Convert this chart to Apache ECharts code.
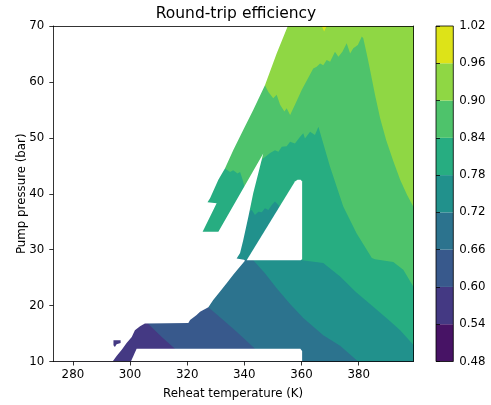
<!DOCTYPE html>
<html>
<head>
<meta charset="utf-8">
<script src="https://cdn.jsdelivr.net/npm/echarts@6/dist/echarts.min.js"></script>
<style>html,body{margin:0;padding:0;background:#fff;}#chart{width:491px;height:405px;}</style>
</head>
<body>
<div id="chart"></div>
<script>
// ---- tick labels / levels ----
const xTicks = [280, 300, 320, 340, 360, 380];
const yTicks = [10, 20, 30, 40, 50, 60, 70];
const levels = [0.48, 0.54, 0.60, 0.66, 0.72, 0.78, 0.84, 0.90, 0.96, 1.02];
const bandColors = ['#471365', '#443983', '#38598c', '#2c738e', '#21918c', '#27ad81', '#4ec36b', '#8fd744', '#dde318'];

// ---- filled-contour regions, [T (K), P (bar)] ----
// region where efficiency >= level
const above054 = [[272,8.5],[401.5,8.5],[401.5,72],[272,72]];
const above060 = [[306.4,16.7],[311.1,14.4],[315.7,12.3],[316.1,8.5],[401.5,8.5],[401.5,72],[272,72],[272,19.2],[306.4,19.2]];
const above066 = [[327.4,19.7],[332.6,17.4],[337.3,15.3],[343.7,12.3],[344.1,8.5],[401.5,8.5],[401.5,72],[272,72],[272,22.8],[327.4,22.8]];
const above072 = [[272,72],[401.5,72],[401.5,8.5],[380.1,8.5],[379.8,10],[373.5,12.8],[367.6,14.7],[360.6,17.8],[356.0,20.3],[351.3,23.1],[347.2,25.8],[343.1,28.1],[340.4,28.15],[337.1,28.5],[272,28.5]];
const above078 = [[272,72],[401.5,72],[401.5,13.0],[399.1,13.0],[394.5,15.6],[391.0,17.2],[385.1,19.8],[379.1,22.4],[373.5,25.2],[367.6,27.6],[360.2,28.1],[358.8,29.0],[354.2,36.2],[352.2,37.7],[351.9,38.0],[350.7,38.6],[349.6,38.0],[348.4,37.1],[347.2,37.4],[346.1,36.7],[344.9,36.8],[343.7,36.2],[342.6,37.1],[341.6,36.9],[338.5,36.7],[338.5,31.7],[272,31.7]];
const above084 = [[272,72],[401.5,72],[401.5,23.4],[399.1,23.4],[395.6,26.4],[392.1,27.8],[385.7,28.3],[384.6,28.5],[379.3,32.9],[374.6,37.7],[370.0,44.8],[365.9,52.0],[364.7,50.5],[363.0,51.1],[361.2,49.9],[360.6,50.8],[359.5,50.2],[357.7,49.0],[356.0,49.3],[354.8,48.5],[353.1,48.4],[351.9,47.5],[350.7,47.8],[349.0,47.3],[347.6,46.7],[346.3,46.2],[344.1,44.2],[342.0,41.7],[340.0,41.3],[339.4,42.5],[338.5,43.9],[337.6,43.6],[336.1,44.2],[335.0,43.9],[333.2,44.5],[329.7,44.6],[272,44.6]];
const above090 = [[272,72],[401.5,72],[401.5,37.7],[399.1,37.7],[396.9,39.8],[394.5,42.5],[392.0,46.0],[389.6,49.6],[387.5,53.5],[385.7,57.7],[384.0,62.1],[382.9,64.8],[381.6,67.8],[381.1,68.1],[379.7,66.6],[378.1,66.0],[377.0,65.1],[375.8,66.9],[374.3,65.4],[372.9,64.5],[371.7,65.4],[370.0,63.6],[368.8,63.9],[367.6,63.0],[366.5,63.3],[365.3,62.7],[364.1,62.4],[360.1,58.6],[357.7,55.9],[356.0,54.1],[354.8,55.3],[354.0,54.7],[352.5,55.9],[351.3,57.7],[350.1,57.1],[348.4,58.2],[347.2,59.4],[343.7,59.4],[272,59.4]];
const above096 = [[366.8,72],[369.1,72],[368.8,70],[367.9,69.0],[367.1,70]];

// ---- regions with no data (left blank) ----
const nanOutside = [[272,72],[356.0,72],[355.2,70],[351.3,65.1],[347.2,59.4],[343.1,55.0],[339.6,51.4],[336.1,47.8],[333.2,44.5],[330.9,42.5],[328.0,39.2],[327.1,38.5],[330.3,38.3],[325.4,33.2],[330.9,33.2],[346.6,47.2],[344.9,43.7],[343.1,40.1],[341.4,35.9],[339.6,31.7],[338.5,29.4],[337.3,28.4],[339.9,28.2],[340.2,28.0],[338.5,27.0],[336.1,25.5],[333.8,24.0],[331.5,22.5],[329.1,21.0],[327.4,19.7],[324.5,18.9],[323.3,18.3],[321.0,17.4],[320.4,16.9],[305.2,16.8],[303.5,16.3],[301.7,15.6],[300.6,14.4],[298.8,13.3],[297.1,12.1],[295.3,11.0],[293.9,10],[293.7,8.5],[272,8.5]];
const nanTriangle = [[340.8,28.1],[357.7,42.2],[358.6,42.5],[359.7,42.5],[360.2,42.2],[360.2,28.3],[359.7,28.1]];
const nanBottom = [[302.3,12.3],[359.6,12.3],[360.2,11.9],[360.2,8],[298.6,8],[300.3,10]];
// small isolated patch in the 0.54-0.60 band
const islandPatch = [[294.2,13.8],[296.7,13.8],[296.7,13.3],[295.3,13.1],[294.7,12.6],[294.2,12.9]];

const FONT = "'DejaVu Sans', sans-serif";
const regions = [
  {poly: above054, color: bandColors[1]},
  {poly: above060, color: bandColors[2]},
  {poly: above066, color: bandColors[3]},
  {poly: above072, color: bandColors[4]},
  {poly: above078, color: bandColors[5]},
  {poly: above084, color: bandColors[6]},
  {poly: above090, color: bandColors[7]},
  {poly: above096, color: bandColors[8]},
  {poly: nanOutside, color: '#ffffff'},
  {poly: nanTriangle, color: '#ffffff'},
  {poly: nanBottom, color: '#ffffff'},
  {poly: islandPatch, color: bandColors[1]}
];

const chart = echarts.init(document.getElementById('chart'), null, {renderer: 'canvas'});
const axisLineStyle = {color: '#000', width: 0.8};
const labelStyle = {color: '#000', fontSize: 11.8, fontFamily: FONT};

const option = {
  animation: false,
  backgroundColor: '#fff',
  title: {
    text: 'Round-trip efficiency', left: 236, top: 6, textAlign: 'center', padding: 0,
    textStyle: {fontSize: 15.5, fontWeight: 'normal', color: '#000', fontFamily: FONT}
  },
  grid: [
    {left: 53.3, top: 26, width: 359.7, height: 335.5},
    {left: 436, top: 26, width: 17.3, height: 335.5}
  ],
  xAxis: [
    {gridIndex: 0, type: 'value', min: 273.15, max: 399, position: 'bottom', z: 10,
     axisLine: {show: true, onZero: false, lineStyle: axisLineStyle},
     axisTick: {show: true, customValues: xTicks, length: 4, lineStyle: axisLineStyle},
     axisLabel: Object.assign({customValues: xTicks, margin: 7.5}, labelStyle),
     splitLine: {show: false},
     name: 'Reheat temperature (K)', nameLocation: 'middle', nameGap: 26, nameMoveOverlap: false,
     nameTextStyle: labelStyle},
    {gridIndex: 0, type: 'value', min: 273.15, max: 399, position: 'top', z: 10,
     axisLine: {show: true, onZero: false, lineStyle: axisLineStyle},
     axisTick: {show: false}, axisLabel: {show: false}, splitLine: {show: false}},
    {gridIndex: 1, type: 'value', min: 0, max: 1, show: false}
  ],
  yAxis: [
    {gridIndex: 0, type: 'value', min: 10, max: 70, position: 'left', z: 10,
     axisLine: {show: true, onZero: false, lineStyle: axisLineStyle},
     axisTick: {show: true, customValues: yTicks, length: 4, lineStyle: axisLineStyle},
     axisLabel: Object.assign({customValues: yTicks, margin: 9}, labelStyle),
     splitLine: {show: false},
     name: 'Pump pressure (bar)', nameLocation: 'middle', nameGap: 25, nameRotate: 90, nameMoveOverlap: false,
     nameTextStyle: labelStyle},
    {gridIndex: 0, type: 'value', min: 10, max: 70, position: 'right', z: 10,
     axisLine: {show: true, onZero: false, lineStyle: axisLineStyle},
     axisTick: {show: false}, axisLabel: {show: false}, splitLine: {show: false}},
    {gridIndex: 1, type: 'value', min: 0.48, max: 1.02, position: 'right', z: 10,
     axisLine: {show: false},
     axisTick: {show: true, customValues: levels, length: 4, lineStyle: axisLineStyle},
     axisLabel: Object.assign({customValues: levels, margin: 6, formatter: v => Number(v).toFixed(2)}, labelStyle),
     splitLine: {show: false}}
  ],
  series: [
    {
      type: 'custom', xAxisIndex: 0, yAxisIndex: 0, clip: true, silent: true,
      data: regions.map(r => r.poly[0]),
      renderItem: function (params, api) {
        const r = regions[params.dataIndex];
        return {
          type: 'polygon',
          shape: {points: r.poly.map(p => api.coord(p))},
          style: {fill: r.color, stroke: null}
        };
      }
    },
    {
      type: 'custom', xAxisIndex: 2, yAxisIndex: 2, silent: true,
      data: bandColors.map((c, i) => [0, levels[i]]),
      renderItem: function (params, api) {
        const i = params.dataIndex;
        const p0 = api.coord([0, levels[i]]);
        const p1 = api.coord([1, levels[i + 1]]);
        return {
          type: 'rect',
          shape: {x: p0[0], y: p1[1], width: p1[0] - p0[0], height: p0[1] - p1[1]},
          style: {fill: bandColors[i], stroke: null}
        };
      }
    },
    {
      type: 'custom', xAxisIndex: 2, yAxisIndex: 2, silent: true, z: 5,
      data: [[0, levels[0]]],
      renderItem: function (params, api) {
        const p0 = api.coord([0, levels[0]]);
        const p1 = api.coord([1, levels[levels.length - 1]]);
        return {
          type: 'rect',
          shape: {x: p0[0], y: p1[1], width: p1[0] - p0[0], height: p0[1] - p1[1]},
          style: {fill: 'none', stroke: '#000', lineWidth: 0.8}
        };
      }
    }
  ]
};
chart.setOption(option);
</script>
</body>
</html>
